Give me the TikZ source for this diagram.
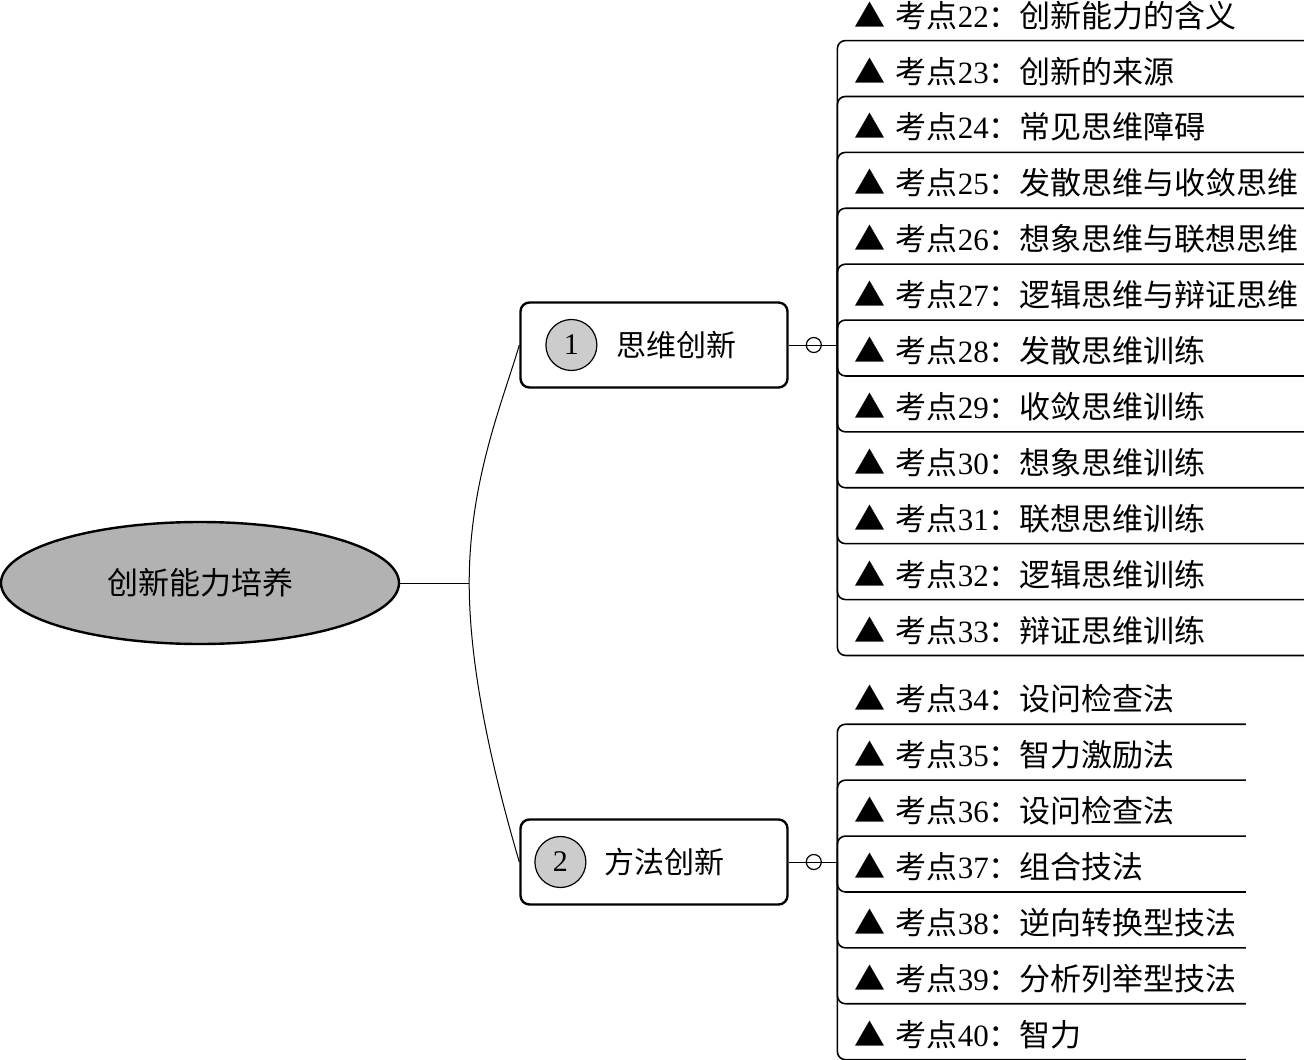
\documentclass[tikz,border=0pt]{standalone}
\usepackage{fontspec}
\setmainfont{Liberation Serif}
\newfontfamily\cjk{Noto Sans CJK SC}
\usepackage{tikz}
\usetikzlibrary{positioning,shapes.geometric,calc}
\newcommand{\kaodian}[2]{{\cjk ▲ 考点}#1{\cjk ：#2}}

\begin{document}
\begin{tikzpicture}[
  x=1pt, y=-1pt,
  every node/.style={font=\fontsize{30}{30}\selectfont},
  root/.style={ellipse, draw, line width=2.4pt, fill=black!30,
               minimum width=398pt, minimum height=122pt, font=\fontsize{31}{31}\selectfont\cjk},
  topic/.style={draw, line width=2.4pt, rounded corners=9pt,
                minimum width=267pt, minimum height=85pt},
  badge/.style={circle, draw, line width=1.2pt, fill=black!20,
                minimum size=51pt, inner sep=0pt},
  label/.style={inner sep=0pt, font=\fontsize{30}{30}\selectfont\cjk},
  fold/.style={circle, draw, line width=1.2pt, minimum size=15pt, inner sep=0pt},
  kd/.style={inner sep=0pt, minimum height=55.5pt, align=left,
             text height=32pt, text depth=3pt,
             font=\fontsize{31}{31}\selectfont},
  kdwide/.style={kd, text width=452pt},
  kdnarrow/.style={kd, text width=391pt},
  link/.style={line width=1pt},
  branch/.style={line width=1.6pt, rounded corners=8pt},
]
\useasboundingbox (0,0) rectangle (1304,1060);

%% ---- central topic --------------------------------------------------------
\node[root] (root) at (200,583) {创新能力培养};
\coordinate[right=69pt of root.east] (hub);

%% ---- the two main topics --------------------------------------------------
\node[topic] (box1) at (654,345) {};
\node[badge, right=26pt of box1.west] (num1) {1};
\node[label, right=19pt of num1] (lab1) {思维创新};

\node[topic] (box2) at (654,862) {};
\node[badge, right=15pt of box2.west] (num2) {2};
\node[label, right=18pt of num2] (lab2) {方法创新};

\draw[link] (root.east) -- (hub);
\draw[link] (hub) .. controls +(0,-103) and +(-16,55) .. (box1.west);
\draw[link] (hub) .. controls +(0,103) and +(-16,-55) .. (box2.west);

%% ---- collapse markers -----------------------------------------------------
\node[fold, right=17pt of box1.east] (fold1) {};
\node[fold, right=17pt of box2.east] (fold2) {};

%% ---- first list: 22 to 33 -------------------------------------------------
\node[kdwide, right=32.5pt of fold1, yshift=-3pt] (k28) {\kaodian{28}{发散思维训练}};
\node[kdwide, above=0pt of k28] (k27) {\kaodian{27}{逻辑思维与辩证思维}};
\node[kdwide, above=0pt of k27] (k26) {\kaodian{26}{想象思维与联想思维}};
\node[kdwide, above=0pt of k26] (k25) {\kaodian{25}{发散思维与收敛思维}};
\node[kdwide, above=0pt of k25] (k24) {\kaodian{24}{常见思维障碍}};
\node[kdwide, above=0pt of k24] (k23) {\kaodian{23}{创新的来源}};
\node[kdwide, above=0pt of k23] (k22) {\kaodian{22}{创新能力的含义}};
\node[kdwide, below=0pt of k28] (k29) {\kaodian{29}{收敛思维训练}};
\node[kdwide, below=0pt of k29] (k30) {\kaodian{30}{想象思维训练}};
\node[kdwide, below=0pt of k30] (k31) {\kaodian{31}{联想思维训练}};
\node[kdwide, below=0pt of k31] (k32) {\kaodian{32}{逻辑思维训练}};
\node[kdwide, below=0pt of k32] (k33) {\kaodian{33}{辩证思维训练}};

\coordinate[left=17pt of fold1.east -| k28.west] (tap1);
\draw[link] (box1.east) -- (tap1);
\draw[branch] (tap1) |- (k22.south east);
\draw[branch] (tap1) |- (k23.south east);
\draw[branch] (tap1) |- (k24.south east);
\draw[branch] (tap1) |- (k25.south east);
\draw[branch] (tap1) |- (k26.south east);
\draw[branch] (tap1) |- (k27.south east);
\draw[branch] (tap1) |- (k28.south east);
\draw[branch] (tap1) |- (k29.south east);
\draw[branch] (tap1) |- (k30.south east);
\draw[branch] (tap1) |- (k31.south east);
\draw[branch] (tap1) |- (k32.south east);
\draw[branch] (tap1) |- (k33.south east);

%% ---- second list: 34 to 40 ------------------------------------------------
\node[kdnarrow, right=32.5pt of fold2, yshift=-2pt] (k37) {\kaodian{37}{组合技法}};
\node[kdnarrow, above=0pt of k37] (k36) {\kaodian{36}{设问检查法}};
\node[kdnarrow, above=0pt of k36] (k35) {\kaodian{35}{智力激励法}};
\node[kdnarrow, above=0pt of k35] (k34) {\kaodian{34}{设问检查法}};
\node[kdnarrow, below=0pt of k37] (k38) {\kaodian{38}{逆向转换型技法}};
\node[kdnarrow, below=0pt of k38] (k39) {\kaodian{39}{分析列举型技法}};
\node[kdnarrow, below=0pt of k39] (k40) {\kaodian{40}{智力}};

\coordinate[left=17pt of fold2.east -| k37.west] (tap2);
\draw[link] (box2.east) -- (tap2);
\draw[branch] (tap2) |- (k34.south east);
\draw[branch] (tap2) |- (k35.south east);
\draw[branch] (tap2) |- (k36.south east);
\draw[branch] (tap2) |- (k37.south east);
\draw[branch] (tap2) |- (k38.south east);
\draw[branch] (tap2) |- (k39.south east);
\draw[branch] (tap2) |- (k40.south east);

\end{tikzpicture}
\end{document}
